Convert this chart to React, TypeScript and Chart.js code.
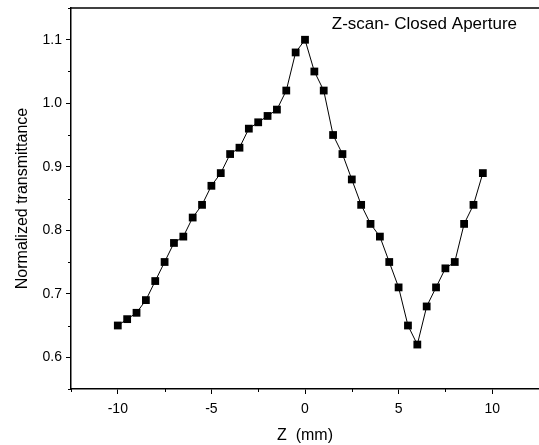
import React, { useEffect, useRef } from "react";
import { Chart, registerables } from "chart.js";

Chart.register(...registerables);

const zPositions = [
  -10, -9.5, -9, -8.5, -8, -7.5, -7, -6.5, -6, -5.5, -5, -4.5, -4, -3.5, -3, -2.5, -2, -1.5, -1, -0.5,
  0, 0.5, 1, 1.5, 2, 2.5, 3, 3.5, 4, 4.5, 5, 5.5, 6, 6.5, 7, 7.5, 8, 8.5, 9, 9.5,
];
const transmittance = [
  0.65, 0.66, 0.67, 0.69, 0.72, 0.75, 0.78, 0.79, 0.82, 0.84, 0.87, 0.89, 0.92, 0.93, 0.96, 0.97, 0.98, 0.99, 1.02, 1.08,
  1.1, 1.05, 1.02, 0.95, 0.92, 0.88, 0.84, 0.81, 0.79, 0.75, 0.71, 0.65, 0.62, 0.68, 0.71, 0.74, 0.75, 0.81, 0.84, 0.89,
];
const xMajorTicks = [-10, -5, 0, 5, 10];
const xMinorTicks = [-12.5, -7.5, -2.5, 2.5, 7.5, 12.5];
const yMajorTicks = [0.6, 0.7, 0.8, 0.9, 1.0, 1.1];
const yMinorTicks = [0.55, 0.65, 0.75, 0.85, 0.95, 1.05, 1.15];
const xRange = [-12.5, 12.5];
const yRange = [0.55, 1.15];
const titleText = "Z-scan- Closed Aperture";
const xTitle = "Z  (mm)";
const yTitle = "Normalized transmittance";

const FONT = "'Liberation Sans', Arial, sans-serif";

const framePlugin = {
  id: "frameAndMinor",
  afterDraw(chart: any) {
    const { ctx, chartArea } = chart;
    const xs = chart.scales.x;
    const ys = chart.scales.y;
    ctx.save();
    ctx.strokeStyle = "#000";
    ctx.lineWidth = 1.5;
    ctx.beginPath();
    ctx.moveTo(chartArea.left, chartArea.top);
    ctx.lineTo(chartArea.right, chartArea.top);
    ctx.stroke();
    ctx.lineWidth = 1;
    ctx.beginPath();
    xMinorTicks.forEach((v) => {
      const px = Math.round(xs.getPixelForValue(v)) + 0.5;
      ctx.moveTo(px, chartArea.bottom);
      ctx.lineTo(px, chartArea.bottom + 3);
    });
    yMinorTicks.forEach((v) => {
      const py = Math.round(ys.getPixelForValue(v)) + 0.5;
      ctx.moveTo(chartArea.left, py);
      ctx.lineTo(chartArea.left - 3, py);
    });
    ctx.stroke();
    ctx.fillStyle = "#000";
    ctx.font = `17px ${FONT}`;
    ctx.textAlign = "right";
    ctx.textBaseline = "middle";
    ctx.fillText(titleText, chartArea.right - 22, chartArea.top + 16);
    ctx.restore();
  },
};

export default function App() {
  const canvasRef = useRef<HTMLCanvasElement | null>(null);

  useEffect(() => {
    if (!canvasRef.current) return;
    const chart = new Chart(canvasRef.current, {
      type: "line",
      data: {
        datasets: [
          {
            data: zPositions.map((z, i) => ({ x: z, y: transmittance[i] })),
            borderColor: "#000",
            borderWidth: 1,
            backgroundColor: "#000",
            pointStyle: "rect",
            pointRadius: 5.5,
            pointBorderWidth: 0,
            pointBackgroundColor: "#000",
            tension: 0,
          },
        ],
      },
      options: {
        animation: false,
        responsive: true,
        maintainAspectRatio: false,
        layout: { autoPadding: false, padding: { top: 8, left: 0, right: 0, bottom: 0 } },
        plugins: { legend: { display: false }, tooltip: { enabled: false } },
        scales: {
          x: {
            type: "linear",
            min: xRange[0],
            max: xRange[1],
            afterBuildTicks: (s: any) => {
              s.ticks = xMajorTicks.map((v) => ({ value: v }));
            },
            afterFit: (s: any) => {
              s.height = 56;
              s.paddingLeft = 0;
              s.paddingRight = 0;
            },
            grid: { display: true, drawOnChartArea: false, drawTicks: true, tickLength: 5, tickColor: "#000", tickWidth: 1 },
            border: { display: true, color: "#000", width: 1.5 },
            ticks: {
              color: "#000",
              font: { family: FONT, size: 14 },
              padding: 7,
              maxRotation: 0,
              callback: (v: any) => String(v),
            },
            title: {
              display: true,
              text: xTitle,
              color: "#000",
              font: { family: FONT, size: 16 },
              padding: { top: 0, bottom: 0 },
            },
          },
          y: {
            type: "linear",
            min: yRange[0],
            max: yRange[1],
            afterBuildTicks: (s: any) => {
              s.ticks = yMajorTicks.map((v) => ({ value: v }));
            },
            afterFit: (s: any) => {
              s.width = 71;
              s.paddingTop = 0;
              s.paddingBottom = 0;
            },
            grid: { display: true, drawOnChartArea: false, drawTicks: true, tickLength: 5, tickColor: "#000", tickWidth: 1 },
            border: { display: true, color: "#000", width: 1.5 },
            ticks: {
              color: "#000",
              font: { family: FONT, size: 14 },
              padding: 4,
              callback: (v: any) => Number(v).toFixed(1),
            },
            title: {
              display: true,
              text: yTitle,
              color: "#000",
              font: { family: FONT, size: 16 },
              padding: { top: 13, bottom: 0 },
            },
          },
        },
      },
      plugins: [framePlugin],
    });
    return () => chart.destroy();
  }, []);

  return (
    <div style={{ position: "absolute", left: 0, top: 0, width: 539, height: 445, background: "#fff" }}>
      <canvas ref={canvasRef} />
    </div>
  );
}
